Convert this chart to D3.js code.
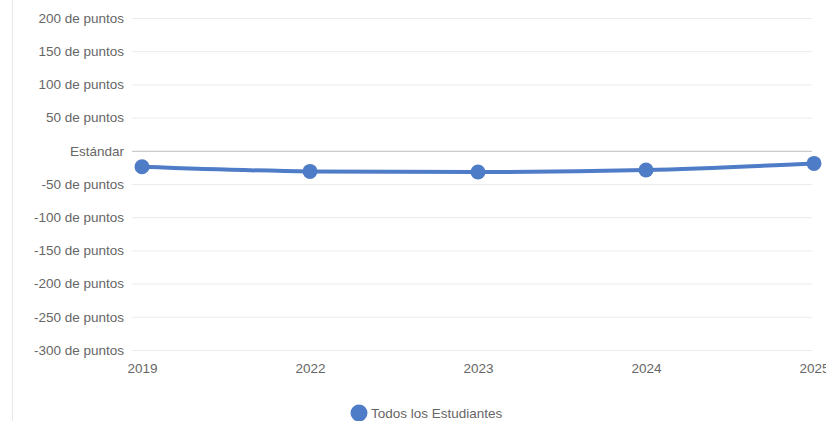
<!DOCTYPE html>
<html><head><meta charset="utf-8">
<script src="https://cdn.jsdelivr.net/npm/d3@7/dist/d3.min.js"></script>
<style>html,body{margin:0;padding:0;background:#fff;overflow:hidden}svg{display:block;font-family:"Liberation Sans",Arial,sans-serif}</style>
</head><body><svg id="c" width="826" height="421"></svg>
<script>
const years = ["2019","2022","2023","2024","2025"];
const values = [-24, -31, -32, -29, -19];
const yTicks = [200,150,100,50,0,-50,-100,-150,-200,-250,-300];
const seriesName = "Todos los Estudiantes";
const color = "#4f7cc6";

const svg = d3.select("#c");
const x = d3.scalePoint().domain(years).range([142, 814]);
const y = d3.scaleLinear().domain([-300, 200]).range([350, 18]);

svg.append("line").attr("x1",12.5).attr("x2",12.5).attr("y1",0).attr("y2",421).attr("stroke","#e8e8e8");

const yAxis = svg.append("g").attr("transform","translate(132,0)")
  .call(d3.axisLeft(y).tickValues(yTicks).tickSize(-680).tickPadding(8)
    .tickFormat(d => d === 0 ? "Estándar" : d + " de puntos"));
yAxis.select(".domain").remove();
yAxis.selectAll(".tick line").attr("stroke", d => d === 0 ? "#bdbdbd" : "#ebebeb");
yAxis.selectAll(".tick text").attr("fill","#666").style("font-size","13.5px");

const xAxis = svg.append("g").attr("transform","translate(0,350)")
  .call(d3.axisBottom(x).tickSize(0).tickPadding(13));
xAxis.select(".domain").remove();
xAxis.selectAll(".tick text").attr("fill","#666").style("font-size","13.5px");

const data = years.map((yr,i)=>({yr, v: values[i]}));
svg.append("path").datum(data)
  .attr("fill","none").attr("stroke",color).attr("stroke-width",4)
  .attr("d", d3.line().x(d=>x(d.yr)).y(d=>y(d.v)).curve(d3.curveMonotoneX));
svg.selectAll("circle.pt").data(data).join("circle").attr("class","pt")
  .attr("cx",d=>x(d.yr)).attr("cy",d=>y(d.v)).attr("r",7.5).attr("fill",color);

const leg = svg.append("g");
leg.append("circle").attr("cx",359).attr("cy",413).attr("r",8.5).attr("fill",color);
leg.append("text").attr("x",371).attr("y",418).attr("fill","#666").style("font-size","13.5px").text(seriesName);
</script></body></html>
